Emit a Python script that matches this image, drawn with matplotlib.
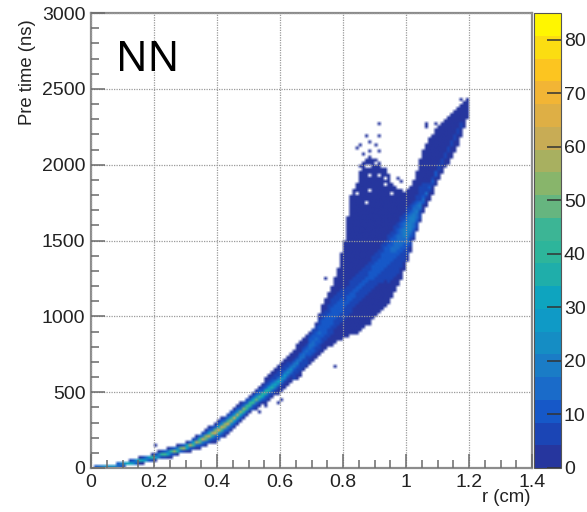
import numpy as np
import matplotlib
matplotlib.use("Agg")
import matplotlib.pyplot as plt
from matplotlib.colors import ListedColormap, BoundaryNorm
from matplotlib.cm import ScalarMappable
from matplotlib.ticker import MultipleLocator

plt.rcParams['font.family'] = ['Liberation Sans', 'DejaVu Sans']

# Per-column read-off of the histogram (one entry per 0.01 cm bin, r = 0 .. 1.19)
low = [0,0,0,0,0,0,1,2,4,6,
       9,12,15,18,21,25,29,33,37,41,
       46,51,56,60,65,70,77,84,91,98,
       105,110,116,122,128,135,143,152,160,169,
       178,192,208,225,242,260,280,300,320,340,
       360,374,388,402,416,430,444,458,472,486,
       500,518,536,554,572,590,610,632,654,675,
       695,715,735,755,775,795,810,825,835,845,
       855,865,875,885,895,905,920,935,950,975,
       1000,1020,1040,1060,1090,1125,1165,1205,1250,1310,
       1370,1430,1500,1560,1620,1680,1725,1770,1810,1855,
       1900,1940,1975,2010,2050,2085,2130,2180,2240,2300]
high = [8,10,12,14,17,20,24,28,32,37,
        42,47,52,58,64,70,76,82,88,96,
        105,112,119,126,133,140,147,154,161,168,
        175,187,199,212,226,240,255,270,285,300,
        316,332,349,366,383,400,416,432,449,465,
        481,503,525,547,569,590,610,630,651,671,
        692,716,740,763,786,810,830,850,872,890,
        910,960,1020,1070,1110,1150,1200,1250,1320,1420,
        1500,1650,1800,1860,1900,2000,2020,2040,2060,2060,
        2040,2020,2000,1970,1940,1880,1850,1840,1830,1820,
        1830,1850,1900,1960,2030,2095,2130,2170,2200,2230,
        2250,2270,2290,2310,2340,2360,2380,2400,2420,2440]
ridge = [2,3,4,6,8,10,13,16,19,22,
         25,29,33,38,43,48,53,58,63,69,
         75,80,86,92,98,105,111,118,125,132,
         140,149,158,168,179,190,201,213,225,237,
         250,265,280,296,313,330,348,366,384,402,
         420,436,452,468,484,500,517,534,551,568,
         585,607,629,651,673,695,721,747,773,799,
         825,855,885,915,945,975,1000,1025,1050,1065,
         1080,1105,1130,1155,1180,1200,1220,1240,1265,1290,
         1310,1335,1360,1390,1415,1440,1465,1490,1520,1545,
         1570,1610,1650,1690,1730,1770,1810,1850,1895,1940,
         1980,2020,2060,2100,2140,2180,2220,2260,2300,2340]
peak = [8,14,18,20,22,24,26,28,28,30,
        30,32,32,34,34,36,36,38,38,40,
        40,42,44,46,48,50,52,54,56,58,
        60,58,62,60,64,62,66,64,62,66,
        64,66,62,64,60,62,58,56,56,54,
        52,50,48,46,44,42,38,36,34,30,
        28,26,24,22,20,18,17,16,15,14,
        14,13,13,12,12,11,11,10,10,10,
        9,9,9,9,9,9,9,9,9,10,
        10,10,11,11,12,13,14,15,16,18,
        20,20,20,18,18,16,14,12,11,10,
        8,8,7,7,6,6,6,5,5,4]

# Isolated occupied cells outside the solid envelope (r in cm, t in ns)
speck_r = [.912,.87,.912,.886,.854,.90,.843,.88,.918,.864,.896,.933,.949,.97,.986,
           1.066,1.066,1.092,1.171,1.193,1.193,.20,.775,.605,.593,.537,.552,.746,.843]
speck_t = [2261,2195,2195,2152,2123,2123,2114,2097,2085,2063,2052,1954,1925,1910,1888,
           2279,2240,2272,2426,2437,2400,152,661,455,421,362,402,1246,892]
# Empty cells inside the envelope
hole_r = [.886,.843,.87,.955,.886,.859,.912,.85,.87,.90,.92,.88,.83,.84,.93,.94,.86,.91,.89]
hole_t = [1822,1811,1756,1811,1998,1978,1932,1960,1990,2010,1990,1920,1850,1890,1900,1860,2030,2040,2040]

palette = ['#26369E','#1B45B5','#1658C8','#1A6BC9','#1A7CC6','#158DC4','#0F9AC6',
           '#0EA4BF','#1FAEAA','#2DB59B','#3CB595','#66B57F','#88B56B','#A8B060',
           '#C8AC55','#DEAF45','#F2B535','#FCC520','#FBDD12','#FFF600']
zmax = 85.0
x_ticks = [0, 0.2, 0.4, 0.6, 0.8, 1.0, 1.2, 1.4]
y_ticks = [0, 500, 1000, 1500, 2000, 2500, 3000]
z_ticks = [0, 10, 20, 30, 40, 50, 60, 70, 80]

# Fill the 0.01 cm x 20 ns grid from the column read-offs
dr, dt = 0.01, 20
nr, nt = 140, 150
Z = np.full((nt, nr), np.nan)
for i in range(len(low)):
    lo, hi, c, p = low[i], high[i], ridge[i], peak[i]
    w = max(12.0, 0.33 * (c - lo) if c - lo < 120 else 0.6 * min(c - lo, 200))
    for j in range(nt):
        t = (j + 0.5) * dt
        if t < lo or t > hi:
            continue
        core = p * np.exp(-((t - c) / w) ** 2)
        if t < c:
            span = max(c - lo, 1.0)
            k = 1 if span < 100 else 4
            body = 0.4 * p * (1 - (abs(t - c) / span) ** k)
        else:
            span = max(hi - c, 1.0)
            body = 0.4 * p * (1 - abs(t - c) / span)
        Z[j, i] = max(1.5, core, body)
for r, t in zip(speck_r, speck_t):
    Z[int(t / dt), int(r / dr)] = 1.0
for r, t in zip(hole_r, hole_t):
    Z[int(t / dt), int(r / dr)] = np.nan

W, H = 587, 512
fig = plt.figure(figsize=(W / 100, H / 100), dpi=100)
L, R, T, B = 91, 532, 13, 468
ax = fig.add_axes([L / W, 1 - B / H, (R - L) / W, (B - T) / H])
cax = fig.add_axes([534 / W, 1 - B / H, 27 / W, (B - T) / H])

cmap = ListedColormap(palette)
cmap.set_bad((1, 1, 1, 1))
norm = BoundaryNorm(np.linspace(0, zmax, len(palette) + 1), len(palette))
rgba = cmap(norm(np.ma.masked_invalid(Z)))
ax.imshow(rgba, origin='lower', extent=[0, nr * dr, 0, nt * dt], aspect='auto',
          interpolation='bilinear', zorder=1)

ax.set_xlim(0, 1.4)
ax.set_ylim(0, 3000)
ax.set_xticks(x_ticks)
ax.set_xticklabels(['0', '0.2', '0.4', '0.6', '0.8', '1', '1.2', '1.4'])
ax.set_yticks(y_ticks)
ax.xaxis.set_minor_locator(MultipleLocator(0.05))
ax.yaxis.set_minor_locator(MultipleLocator(100))
ax.grid(True, which='major', color='#9a9a9a', linestyle=(0, (1, 1)), linewidth=0.9, zorder=3)
ax.set_axisbelow(False)
ax.tick_params(which='major', direction='in', length=10, width=1.1, color='#6a6a6a',
               labelsize=14, labelcolor='#222222', pad=4)
ax.tick_params(which='minor', direction='in', length=5.5, width=1.1, color='#6a6a6a')
for s in ax.spines.values():
    s.set_color('#8c8c8c')
    s.set_linewidth(1.6)

fig.text(531 / W, 1 - 497 / H, 'r (cm)', ha='right', va='center', fontsize=13.4, color='#222222')
fig.text(27 / W, 1 - 72 / H, 'Pre time (ns)', ha='center', va='center', rotation=90,
         fontsize=13.3, color='#222222')
fig.text(148 / W, 1 - 60 / H, 'NN', ha='center', va='center', fontsize=30, color='black',
         family='Noto Sans')

cb = fig.colorbar(ScalarMappable(norm=norm, cmap=cmap), cax=cax, ticks=z_ticks,
                  spacing='proportional', drawedges=False)
cb.ax.minorticks_off()
cb.ax.tick_params(direction='in', length=10, width=1.1, color='#333333',
                  labelsize=14, labelcolor='#222222', pad=2)
cb.outline.set_edgecolor('#555555')
cb.outline.set_linewidth(0.8)

fig.savefig('out.png', dpi=100)
